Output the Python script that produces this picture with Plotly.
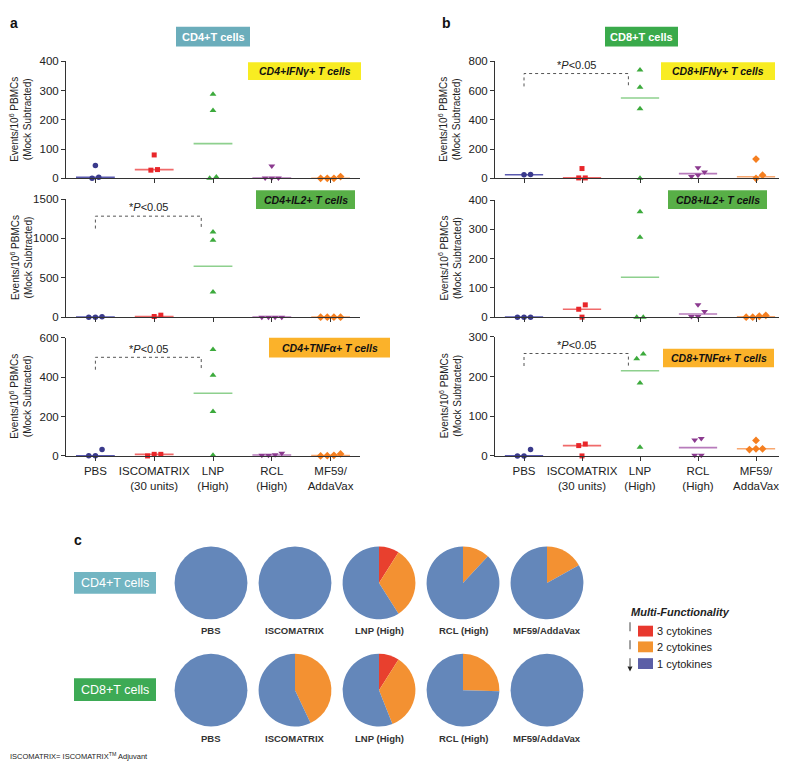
import numpy as np
import plotly.graph_objects as go

W, H = 787, 761
FONT = "Liberation Sans, Arial, sans-serif"

# ---------------- data ----------------
groups = ["PBS", "ISCOMATRIX", "LNP", "RCL", "MF59"]
tick_labels = ["PBS", "ISCOMATRIX<br>(30 units)", "LNP<br>(High)", "RCL<br>(High)", "MF59/<br>AddaVax"]

cd4_ifng = [[44, 0, 4], [80, 28, 30], [287, 232, 0, 5], [42, 1, 1, 1], [0, 0, 0, 6]]
cd4_il2 = [[5, 0, 0], [25, -5, 8], [1080, 976, 318, -5], [0, 0, 0, 0], [0, 0, 0, 0]]
cd4_tnfa = [[33, 1, 1], [8, 0, 8], [541, 410, 226, 3], [6, 4, 3, 14], [3, 1, 0, 10]]

cd8_ifng = [[27, -2, 25], [67, 3, 3], [740, 623, 475, 0], [43, 72, 13, 22], [132, 22, -2, 0]]
cd8_il2 = [[0, 0, 0], [42, 27, 0], [360, 273, 0, 0], [19, 42, 2, 2], [3, 0, 0, 6]]
cd8_tnfa = [[16, 0, 0], [30, 26, 0], [257, 245, 184, 22], [44, 40, 2, 2], [39, 18, 16, 18]]

y_max_a = [400, 1500, 600]
y_max_b = [800, 400, 300]
y_ticks_a = [[0, 100, 200, 300, 400], [0, 500, 1000, 1500], [0, 200, 400, 600]]
y_ticks_b = [[0, 200, 400, 600, 800], [0, 100, 200, 300, 400], [0, 100, 200, 300]]

pie_groups = ["PBS", "ISCOMATRIX", "LNP (High)", "RCL (High)", "MF59/AddaVax"]
pie_levels = ["3 cytokines", "2 cytokines", "1 cytokines"]
pie_cd4 = [[0, 0, 100], [0, 0, 100], [9, 32, 59], [0, 12, 88], [0, 17, 83]]
pie_cd8 = [[0, 0, 100], [0, 43, 57], [9, 35, 56], [0, 25.5, 74.5], [0, 0, 100]]

# ---------------- styles ----------------
marker_colors = ["#3A3A8C", "#E8262A", "#3CAA3C", "#8B3A8F", "#F57F20"]
median_colors = ["#5A5AB0", "#F06A6A", "#8ED08E", "#B77BBB", "#F8A870"]
symbols = ["circle", "square", "triangle-up", "triangle-down", "diamond"]
marker_sizes = [5.5, 5, 6, 6, 6]
pie_colors = ["#E8402E", "#F39132", "#6487BA"]
legend_colors = ["#E8382E", "#F39431", "#5B5EA6"]


def px(x):
    return x / W


def py(y):
    return 1 - y / H


# panel geometry (pixels)
xdom_a = (58, 352)
xdom_b = (487, 777)
ydom_a = [(48, 167), (188, 308), (329, 449)]
ydom_b = [(48, 167), (189, 308), (328, 449)]

fig = go.Figure()
layout = dict(width=W, height=H, margin=dict(l=0, r=0, t=0, b=0),
              paper_bgcolor="white", plot_bgcolor="white",
              font=dict(family=FONT, color="#222"), showlegend=False)

panels = [
    (cd4_ifng, xdom_a, ydom_a[0], y_max_a[0], y_ticks_a[0], False),
    (cd4_il2, xdom_a, ydom_a[1], y_max_a[1], y_ticks_a[1], False),
    (cd4_tnfa, xdom_a, ydom_a[2], y_max_a[2], y_ticks_a[2], True),
    (cd8_ifng, xdom_b, ydom_b[0], y_max_b[0], y_ticks_b[0], False),
    (cd8_il2, xdom_b, ydom_b[1], y_max_b[1], y_ticks_b[1], False),
    (cd8_tnfa, xdom_b, ydom_b[2], y_max_b[2], y_ticks_b[2], True),
]

STEP = 0.113  # horizontal spread in category units
shapes = []
annotations = []


def swarm_offsets(vals, px_per_unit, thresh_px=7.0):
    order = np.argsort(vals)
    offs = np.zeros(len(vals))
    i = 0
    while i < len(order):
        grp = [order[i]]
        j = i + 1
        while j < len(order) and (vals[order[j]] - vals[order[i]]) * px_per_unit < thresh_px:
            grp.append(order[j])
            j += 1
        n = len(grp)
        for k, idx in enumerate(grp):
            offs[idx] = (k - (n - 1) / 2) * STEP
        i = j
    return offs


for pi, (data, xd, yd, ymax, yticks, show_labels) in enumerate(panels):
    n = pi + 1
    xa = "x" if n == 1 else f"x{n}"
    ya = "y" if n == 1 else f"y{n}"
    ppu = (yd[1] - yd[0]) / ymax
    for gi, vals in enumerate(data):
        vals = np.array(vals, dtype=float)
        offs = swarm_offsets(vals, ppu)
        med = float(np.median(vals))
        fig.add_trace(go.Scatter(x=[gi - 0.33, gi + 0.33], y=[med, med], mode="lines",
                                 line=dict(color=median_colors[gi], width=1.6),
                                 xaxis=xa, yaxis=ya, hoverinfo="skip", cliponaxis=False))
        fig.add_trace(go.Scatter(x=gi + offs, y=vals, mode="markers",
                                 marker=dict(symbol=symbols[gi], color=marker_colors[gi],
                                             size=marker_sizes[gi], line=dict(width=0)),
                                 xaxis=xa, yaxis=ya, cliponaxis=False))
    xkey = "xaxis" if n == 1 else f"xaxis{n}"
    ykey = "yaxis" if n == 1 else f"yaxis{n}"
    xaxis = dict(domain=[px(xd[0]), px(xd[1])], anchor=ya, range=[-0.5, 4.5],
                 tickvals=list(range(5)), showticklabels=show_labels, ticks="outside",
                 ticklen=4, tickwidth=1, tickcolor="#333", showline=True, linecolor="#333",
                 linewidth=1, showgrid=False, zeroline=False,
                 tickfont=dict(size=11.5, color="#222", family=FONT))
    if show_labels:
        xaxis["ticktext"] = tick_labels
    layout[xkey] = xaxis
    layout[ykey] = dict(domain=[py(yd[1]), py(yd[0])], anchor=xa, range=[0, ymax],
                        tickvals=yticks, ticks="outside", ticklen=4, tickwidth=1,
                        tickcolor="#333", showline=True, linecolor="#333", linewidth=1,
                        showgrid=False, zeroline=False,
                        tickfont=dict(size=11.5, color="#222", family=FONT))
    # y-axis title
    annotations.append(dict(text="Events/10<sup>6</sup> PBMCs<br>(Mock Subtracted)",
                            x=px(xd[0] - 45), y=py((yd[0] + yd[1]) / 2), xref="paper", yref="paper",
                            textangle=-90, showarrow=False, xanchor="center", yanchor="middle",
                            font=dict(size=10, color="#222", family=FONT)))

# significance brackets (panel number, bracket top fraction, bracket foot fraction, text fraction)
brackets = [(2, 0.855, 0.75, 0.93), (3, 0.835, 0.73, 0.905), (4, 0.895, 0.785, 0.965),
            (6, 0.86, 0.755, 0.935)]
for n, ytop, yfoot, ytxt in brackets:
    xa = "x" if n == 1 else f"x{n}"
    ya = "y" if n == 1 else f"y{n}"
    shapes.append(dict(type="path", xref=xa, yref=f"{ya} domain",
                       path=f"M 0,{yfoot} L 0,{ytop} L 1.8,{ytop} L 1.8,{yfoot}",
                       line=dict(color="#555", width=1, dash="dot")))
    annotations.append(dict(text="*<i>P</i>&lt;0.05", x=0.9, y=ytxt, xref=xa, yref=f"{ya} domain",
                            showarrow=False, xanchor="center", yanchor="middle",
                            font=dict(size=11, color="#222", family=FONT)))

# label boxes: (x0, x1, y0, y1, color, text, font size, text color)
boxes = [
    (168, 242, 13, 33, "#6BADBB", "<b>CD4+T cells</b>", 11, "white"),
    (597, 670, 13, 33, "#3AAA4B", "<b>CD8+T cells</b>", 11, "white"),
    (240, 353, 49, 67, "#F8EC22", "<b><i>CD4+IFNγ+ T cells</i></b>", 10.5, "#111"),
    (248, 347, 179, 198, "#58AF47", "<b><i>CD4+IL2+ T cells</i></b>", 10.5, "#111"),
    (261, 382, 329, 349, "#FBB22A", "<b><i>CD4+TNFα+ T cells</i></b>", 10.5, "#111"),
    (653, 767, 49, 67, "#F8EC22", "<b><i>CD8+IFNγ+ T cells</i></b>", 10.5, "#111"),
    (660, 759, 179, 198, "#58AF47", "<b><i>CD8+IL2+ T cells</i></b>", 10.5, "#111"),
    (655, 766, 340, 359, "#FBB22A", "<b><i>CD8+TNFα+ T cells</i></b>", 10.5, "#111"),
    (66, 148, 567, 589, "#72B5C2", "CD4+T cells", 12.5, "white"),
    (66, 148, 675, 698, "#3DAA55", "CD8+T cells", 12.5, "white"),
]
for x0, x1, y0, y1, col, txt, fs, tc in boxes:
    shapes.append(dict(type="rect", xref="paper", yref="paper", x0=px(x0), x1=px(x1),
                       y0=py(y1), y1=py(y0), fillcolor=col, line=dict(width=0), layer="above"))
    annotations.append(dict(text=txt, x=px((x0 + x1) / 2), y=py((y0 + y1) / 2), xref="paper",
                            yref="paper", showarrow=False, xanchor="center", yanchor="middle",
                            font=dict(size=fs, color=tc, family=FONT)))

# panel letters
for letter, x, y in [("a", 6, 9), ("b", 438, 9), ("c", 70, 534)]:
    annotations.append(dict(text=f"<b>{letter}</b>", x=px(x), y=py(y), xref="paper", yref="paper",
                            showarrow=False, xanchor="center", yanchor="middle",
                            font=dict(size=14, color="#111", family=FONT)))

# pies
pie_cx = [203, 287, 371, 455, 539]
pie_rows = [(578, 626, pie_cd4), (687, 736, pie_cd8)]
R = 37
for cy, label_y, row in pie_rows:
    for gi, vals in enumerate(row):
        cx = pie_cx[gi]
        fig.add_trace(go.Pie(values=vals, labels=pie_levels, sort=False, direction="clockwise",
                             rotation=0, textinfo="none", hoverinfo="label+percent",
                             marker=dict(colors=pie_colors, line=dict(width=0)),
                             domain=dict(x=[px(cx - R), px(cx + R)], y=[py(cy + R), py(cy - R)]),
                             showlegend=False))
        annotations.append(dict(text=f"<b>{pie_groups[gi]}</b>", x=px(cx), y=py(label_y),
                                xref="paper", yref="paper", showarrow=False, xanchor="center",
                                yanchor="middle", font=dict(size=9.5, color="#333", family=FONT)))

# multi-functionality legend
annotations.append(dict(text="<b><i>Multi-Functionality</i></b>", x=px(621), y=py(608), xref="paper",
                        yref="paper", showarrow=False, xanchor="left", yanchor="middle",
                        font=dict(size=11, color="#222", family=FONT)))
leg_y = [627, 643, 660]
for k, lvl in enumerate(pie_levels):
    shapes.append(dict(type="rect", xref="paper", yref="paper", x0=px(630), x1=px(645),
                       y0=py(leg_y[k] + 5.5), y1=py(leg_y[k] - 5.5), fillcolor=legend_colors[k],
                       line=dict(width=0)))
    annotations.append(dict(text=lvl, x=px(647), y=py(leg_y[k]), xref="paper", yref="paper",
                            showarrow=False, xanchor="left", yanchor="middle",
                            font=dict(size=11, color="#222", family=FONT)))
shapes.append(dict(type="line", xref="paper", yref="paper", x0=px(622), x1=px(622),
                   y0=py(618), y1=py(663), line=dict(color="#444", width=1, dash="dash")))
shapes.append(dict(type="path", xref="paper", yref="paper",
                   path=f"M {px(619.5)},{py(663)} L {px(624.5)},{py(663)} L {px(622)},{py(668)} Z",
                   fillcolor="#222", line=dict(width=0)))

# footnote
annotations.append(dict(text="ISCOMATRIX= ISCOMATRIX<sup>TM</sup> Adjuvant", x=0, y=py(754),
                        xref="paper", yref="paper", showarrow=False, xanchor="left", yanchor="middle",
                        font=dict(size=7.5, color="#222", family=FONT)))

layout["shapes"] = shapes
layout["annotations"] = annotations
fig.update_layout(**layout)
fig.write_html("out.html")
